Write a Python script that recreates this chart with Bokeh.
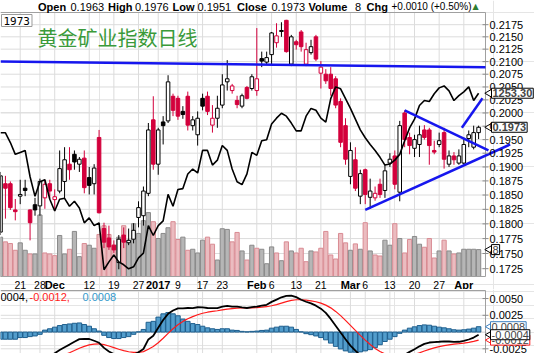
import math
from bokeh.plotting import figure
from bokeh.models import Range1d, LinearScale, Label, LabelSet, ColumnDataSource
from bokeh.layouts import column
from bokeh.embed import file_html
from bokeh.resources import INLINE
from bokeh.core.properties import value

# ---------------- data ----------------
dates = [
    "2016-11-15", "2016-11-16", "2016-11-17", "2016-11-18", "2016-11-21", "2016-11-22", "2016-11-23",
    "2016-11-25", "2016-11-28", "2016-11-29", "2016-11-30",
    "2016-12-01", "2016-12-02", "2016-12-05", "2016-12-06", "2016-12-07", "2016-12-08", "2016-12-09",
    "2016-12-12", "2016-12-13", "2016-12-14", "2016-12-15", "2016-12-16", "2016-12-19", "2016-12-20",
    "2016-12-21", "2016-12-22", "2016-12-23", "2016-12-27", "2016-12-28", "2016-12-29", "2016-12-30",
    "2017-01-03", "2017-01-04", "2017-01-05", "2017-01-06", "2017-01-09", "2017-01-10", "2017-01-11",
    "2017-01-12", "2017-01-13", "2017-01-17", "2017-01-18", "2017-01-19", "2017-01-20", "2017-01-23",
    "2017-01-24", "2017-01-25", "2017-01-26", "2017-01-27", "2017-01-30", "2017-01-31",
    "2017-02-01", "2017-02-02", "2017-02-03", "2017-02-06", "2017-02-07", "2017-02-08", "2017-02-09",
    "2017-02-10", "2017-02-13", "2017-02-14", "2017-02-15", "2017-02-16", "2017-02-17", "2017-02-21",
    "2017-02-22", "2017-02-23", "2017-02-24", "2017-02-27", "2017-02-28",
    "2017-03-01", "2017-03-02", "2017-03-03", "2017-03-06", "2017-03-07", "2017-03-08", "2017-03-09",
    "2017-03-10", "2017-03-13", "2017-03-14", "2017-03-15", "2017-03-16", "2017-03-17", "2017-03-20",
    "2017-03-21", "2017-03-22", "2017-03-23", "2017-03-24", "2017-03-27", "2017-03-28", "2017-03-29",
    "2017-03-30", "2017-03-31",
    "2017-04-03", "2017-04-04", "2017-04-05", "2017-04-06",
]

opens = [
    0.1786, 0.1870, 0.1870, 0.1824, 0.1848, 0.1862, 0.1824, 0.1833, 0.1831, 0.1845,
    0.1870, 0.1842, 0.1857, 0.1874, 0.1905, 0.1923, 0.1905, 0.1916, 0.1881, 0.1870,
    0.1954, 0.1792, 0.1776, 0.1764, 0.1735, 0.1781, 0.1768, 0.1774, 0.1811, 0.1814,
    0.1853, 0.1987, 0.1905, 0.1983, 0.1985, 0.2032, 0.2028, 0.2003, 0.2032, 0.1976,
    0.1959, 0.2028, 0.2032, 0.1977, 0.1990, 0.2015, 0.2060, 0.2043, 0.2024, 0.2013,
    0.2049, 0.2047, 0.2043, 0.2106, 0.2099, 0.2114, 0.2138, 0.2163, 0.2184, 0.2095,
    0.2140, 0.2160, 0.2095, 0.2118, 0.2150, 0.2077, 0.2075, 0.2075, 0.2066, 0.2022,
    0.1976, 0.1883, 0.1913, 0.1848, 0.1895, 0.1846, 0.1845, 0.1869, 0.1858, 0.1907,
    0.1920, 0.1855, 0.2000, 0.1954, 0.1934, 0.1941, 0.1968, 0.1968, 0.1930, 0.1941,
    0.1963, 0.1905, 0.1920, 0.1907, 0.1907, 0.1952, 0.1936, 0.1963,
]
highs = [
    0.1891, 0.1884, 0.1874, 0.1843, 0.1877, 0.1877, 0.1825, 0.1845, 0.1879, 0.1877,
    0.1877, 0.1860, 0.1930, 0.1936, 0.1936, 0.1930, 0.1918, 0.1930, 0.1900, 0.1905,
    0.1968, 0.1802, 0.1797, 0.1772, 0.1781, 0.1794, 0.1792, 0.1801, 0.1839, 0.1865,
    0.1981, 0.2032, 0.1972, 0.1994, 0.2073, 0.2037, 0.2033, 0.2013, 0.2041, 0.1994,
    0.2003, 0.2037, 0.2041, 0.2015, 0.2033, 0.2075, 0.2103, 0.2056, 0.2033, 0.2037,
    0.2052, 0.2075, 0.2168, 0.2120, 0.2120, 0.2160, 0.2178, 0.2180, 0.2185, 0.2154,
    0.2144, 0.2164, 0.2138, 0.2144, 0.2154, 0.2101, 0.2085, 0.2089, 0.2071, 0.2028,
    0.1990, 0.1945, 0.1936, 0.1895, 0.1897, 0.1879, 0.1865, 0.1879, 0.1905, 0.1925,
    0.1930, 0.1985, 0.2005, 0.1963, 0.1959, 0.1976, 0.1977, 0.1972, 0.1948, 0.1963,
    0.1972, 0.1930, 0.1927, 0.1932, 0.1954, 0.1967, 0.1976, 0.1976,
]
lows = [
    0.1781, 0.1809, 0.1824, 0.1806, 0.1834, 0.1848, 0.1772, 0.1814, 0.1814, 0.1826,
    0.1845, 0.1822, 0.1853, 0.1843, 0.1877, 0.1895, 0.1891, 0.1853, 0.1851, 0.1851,
    0.1818, 0.1759, 0.1756, 0.1751, 0.1724, 0.1759, 0.1764, 0.1767, 0.1794, 0.1797,
    0.1848, 0.1895, 0.1886, 0.1941, 0.1981, 0.1994, 0.1987, 0.1989, 0.1967, 0.1967,
    0.1939, 0.2005, 0.1996, 0.1963, 0.1972, 0.2009, 0.2043, 0.2037, 0.2009, 0.2009,
    0.2026, 0.2043, 0.2033, 0.2089, 0.2095, 0.2095, 0.2128, 0.2150, 0.2118, 0.2091,
    0.2124, 0.2120, 0.2091, 0.2114, 0.2101, 0.2047, 0.2056, 0.2033, 0.2009, 0.1936,
    0.1904, 0.1869, 0.1857, 0.1834, 0.1834, 0.1826, 0.1840, 0.1845, 0.1845, 0.1900,
    0.1860, 0.1839, 0.1936, 0.1923, 0.1918, 0.1918, 0.1950, 0.1904, 0.1923, 0.1936,
    0.1897, 0.1900, 0.1904, 0.1904, 0.1904, 0.1936, 0.1932, 0.1951,
]
closes = [
    0.1884, 0.1862, 0.1828, 0.1821, 0.1851, 0.1858, 0.1802, 0.1824, 0.1874, 0.1869,
    0.1857, 0.1847, 0.1897, 0.1913, 0.1895, 0.1909, 0.1914, 0.1863, 0.1867, 0.1898,
    0.1819, 0.1769, 0.1761, 0.1756, 0.1774, 0.1769, 0.1772, 0.1789, 0.1828, 0.1857,
    0.1968, 0.1905, 0.1968, 0.1976, 0.2060, 0.2005, 0.1994, 0.1997, 0.1977, 0.1987,
    0.1990, 0.2013, 0.2003, 0.1990, 0.2009, 0.2054, 0.2066, 0.2052, 0.2016, 0.2033,
    0.2028, 0.2070, 0.2066, 0.2101, 0.2108, 0.2158, 0.2152, 0.2161, 0.2120, 0.2150,
    0.2134, 0.2130, 0.2124, 0.2130, 0.2105, 0.2089, 0.2062, 0.2047, 0.2015, 0.1945,
    0.1914, 0.1930, 0.1862, 0.1888, 0.1851, 0.1857, 0.1853, 0.1851, 0.1893, 0.1914,
    0.1869, 0.1976, 0.1950, 0.1939, 0.1950, 0.1959, 0.1954, 0.1939, 0.1927, 0.1948,
    0.1914, 0.1920, 0.1913, 0.1920, 0.1941, 0.1959, 0.1963, 0.1973,
]
volumes = [
    11.7, 10.3, 9.8, 7.8, 10.0, 7.8, 6.7, 6.7, 18.3, 7.0,
    6.7, 6.2, 12.2, 6.7, 8.1, 13.4, 5.9, 9.8, 9.3, 8.4,
    12.5, 15.1, 12.5, 9.3, 11.7, 15.1, 10.8, 15.7, 12.8, 16.6,
    19.0, 16.3, 11.3, 12.8, 14.5, 16.3, 11.0, 11.7, 7.8, 8.1,
    7.0, 10.8, 11.7, 9.6, 4.9, 14.2, 14.0, 10.3, 13.1, 7.6,
    4.9, 9.3, 8.4, 8.1, 3.8, 8.8, 7.0, 4.7, 10.3, 7.6,
    7.0, 8.4, 4.4, 7.6, 7.3, 8.4, 13.4, 6.4, 5.2, 12.8,
    10.0, 7.8, 9.7, 8.1, 16.0, 7.6, 6.4, 6.1, 10.8, 9.3,
    15.7, 11.3, 7.0, 11.0, 11.9, 9.6, 8.7, 11.3, 5.5, 7.6,
    10.8, 7.6, 6.7, 7.0, 8.1, 8.1, 8.1, 8.0,
]
gold = [
    1225.2, 1225.2, 1218.3, 1209.9, 1211.3, 1212.7, 1194.0, 1180.1, 1190.5, 1191.9,
    1178.0, 1169.7, 1178.0, 1178.7, 1173.1, 1176.6, 1171.8, 1161.3, 1164.8, 1159.3,
    1161.3, 1128.0, 1133.6, 1138.4, 1133.6, 1131.5, 1128.7, 1130.1, 1136.4, 1139.8,
    1159.3, 1152.3, 1159.3, 1162.7, 1181.5, 1173.1, 1184.9, 1185.6, 1196.0, 1199.5,
    1196.7, 1212.7, 1212.7, 1202.3, 1205.8, 1216.2, 1212.7, 1199.5, 1190.5, 1188.4,
    1196.0, 1211.3, 1209.2, 1219.6, 1220.3, 1231.4, 1235.6, 1239.1, 1237.0, 1232.1,
    1226.6, 1226.6, 1237.0, 1242.5, 1241.2, 1235.6, 1232.8, 1249.5, 1257.8, 1256.4,
    1249.5, 1242.5, 1234.9, 1227.3, 1221.7, 1216.9, 1212.7, 1207.8, 1202.3, 1203.0,
    1205.8, 1209.9, 1219.6, 1228.7, 1234.9, 1244.6, 1248.1, 1247.4, 1252.9, 1257.1,
    1258.5, 1255.0, 1248.1, 1251.6, 1254.3, 1257.8, 1248.1, 1253.3,
]
macd = [
    -0.00527, -0.00537, -0.00547, -0.00547, -0.00522, -0.00522, -0.00498, -0.00488, -0.00461, -0.00391,
    -0.00359, -0.00317, -0.00269, -0.00226, -0.00187, -0.00144, -0.00105, -0.00101, -0.00104, -0.00130,
    -0.00160, -0.00236, -0.00290, -0.00329, -0.00353, -0.00359, -0.00362, -0.00336, -0.00302, -0.00253,
    -0.00110, -0.00056, 0.00063, 0.00180, 0.00272, 0.00321, 0.00353, 0.00353, 0.00359, 0.00356,
    0.00370, 0.00367, 0.00359, 0.00357, 0.00357, 0.00380, 0.00392, 0.00379, 0.00380, 0.00369,
    0.00359, 0.00371, 0.00380, 0.00395, 0.00407, 0.00450, 0.00483, 0.00519, 0.00541, 0.00545,
    0.00521, 0.00482, 0.00452, 0.00427, 0.00394, 0.00349, 0.00286, 0.00196, 0.00095, -0.00007,
    -0.00107, -0.00202, -0.00277, -0.00346, -0.00401, -0.00447, -0.00477, -0.00480, -0.00467, -0.00460,
    -0.00438, -0.00394, -0.00339, -0.00296, -0.00256, -0.00213, -0.00176, -0.00156, -0.00149, -0.00145,
    -0.00139, -0.00141, -0.00147, -0.00145, -0.00132, -0.00111, -0.00082, -0.00040,
]
signal = [
    -0.00420, -0.00430, -0.00440, -0.00440, -0.00440, -0.00440, -0.00430, -0.00430, -0.00427, -0.00420,
    -0.00408, -0.00390, -0.00366, -0.00338, -0.00308, -0.00275, -0.00241, -0.00213, -0.00191, -0.00179,
    -0.00175, -0.00187, -0.00208, -0.00232, -0.00256, -0.00277, -0.00294, -0.00302, -0.00302, -0.00292,
    -0.00256, -0.00216, -0.00160, -0.00092, -0.00019, 0.00049, 0.00110, 0.00159, 0.00199, 0.00230,
    0.00258, 0.00280, 0.00296, 0.00308, 0.00318, 0.00331, 0.00343, 0.00350, 0.00356, 0.00359,
    0.00359, 0.00361, 0.00365, 0.00371, 0.00378, 0.00392, 0.00410, 0.00432, 0.00454, 0.00472,
    0.00482, 0.00482, 0.00476, 0.00466, 0.00452, 0.00431, 0.00402, 0.00361, 0.00308, 0.00245,
    0.00174, 0.00099, 0.00024, -0.00050, -0.00120, -0.00185, -0.00244, -0.00291, -0.00326, -0.00353,
    -0.00370, -0.00375, -0.00368, -0.00354, -0.00334, -0.00310, -0.00283, -0.00258, -0.00236, -0.00218,
    -0.00202, -0.00190, -0.00181, -0.00174, -0.00166, -0.00155, -0.00140, -0.00120,
]
hist = [
    -0.00107, -0.00107, -0.00107, -0.00107, -0.00082, -0.00082, -0.00068, -0.00058, -0.00034, 0.00029,
    0.00049, 0.00073, 0.00097, 0.00112, 0.00121, 0.00131, 0.00136, 0.00112, 0.00087, 0.00049,
    0.00015, -0.00049, -0.00082, -0.00097, -0.00097, -0.00082, -0.00068, -0.00034, 0.00003, 0.00039,
    0.00146, 0.00160, 0.00223, 0.00272, 0.00291, 0.00272, 0.00243, 0.00194, 0.00160, 0.00126,
    0.00112, 0.00087, 0.00063, 0.00049, 0.00039, 0.00049, 0.00049, 0.00029, 0.00024, 0.00010,
    0.00003, 0.00010, 0.00015, 0.00024, 0.00029, 0.00058, 0.00073, 0.00087, 0.00087, 0.00073,
    0.00039, 0.00003, -0.00024, -0.00039, -0.00058, -0.00082, -0.00116, -0.00165, -0.00213, -0.00252,
    -0.00281, -0.00301, -0.00301, -0.00296, -0.00281, -0.00262, -0.00233, -0.00189, -0.00141, -0.00107,
    -0.00068, -0.00019, 0.00029, 0.00058, 0.00078, 0.00097, 0.00107, 0.00102, 0.00087, 0.00073,
    0.00063, 0.00049, 0.00034, 0.00029, 0.00034, 0.00044, 0.00058, 0.00080,
]

price_ticks = [0.1725, 0.1750, 0.1775, 0.1800, 0.1825, 0.1850, 0.1875, 0.1900, 0.1925, 0.1950,
               0.1975, 0.2000, 0.2025, 0.2050, 0.2075, 0.2100, 0.2125, 0.2150, 0.2175]
macd_ticks = [-0.0025, 0.0025, 0.0050]
macd_grid = [-0.0025, 0.0, 0.0025, 0.0050]

day_label_dates = ["2016-11-21", "2016-11-28", "2016-12-12", "2016-12-19", "2016-12-27",
                   "2017-01-09", "2017-01-17", "2017-01-23", "2017-02-06", "2017-02-13",
                   "2017-02-21", "2017-03-06", "2017-03-13", "2017-03-20", "2017-03-27"]
day_labels = ["21", "28", "12", "19", "27", "9", "17", "23", "6", "13", "21", "6", "13", "20", "27"]
month_label_dates = ["2016-12-01", "2017-01-03", "2017-02-01", "2017-03-01", "2017-04-03"]
month_labels = ["Dec", "2017", "Feb", "Mar", "Apr"]

# trend lines: (start index, start price) -> (end index, end price)
trend_x0 = [0.0, 82.0, 74.0, 93.6]
trend_p0 = [0.2100, 0.2005, 0.1824, 0.1972]
trend_x1 = [98.4, 99.0, 103.4, 97.8]
trend_p1 = [0.2089, 0.1930, 0.1941, 0.2028]

title_text = "黄金矿业指数日线"
header = [("Open", True), ("0.1963", False), ("High", True), ("0.1976", False),
          ("Low", True), ("0.1951", False), ("Close", True), ("0.1973", False),
          ("Volume", True), ("8", False), ("Chg", True), ("+0.0010 (+0.50%)", False)]

# ---------------- derived ----------------
N = len(dates)
xs = list(range(N))
RED = "#d3003c"
BLUE = "#1616ee"
colors, fills = [], []
for i in range(N):
    up = i == 0 or closes[i] >= closes[i - 1]
    c = "black" if up else RED
    colors.append(c)
    fills.append("white" if closes[i] > opens[i] else c)
vol_fill = ["#b6b6b6" if c == "black" else "#ebbcc0" for c in colors]
vol_line = ["#8a8a8a" if c == "black" else "#d98b93" for c in colors]
body_top = [max(o, c) for o, c in zip(opens, closes)]
body_bot = [min(o, c) for o, c in zip(opens, closes)]
pos = {d: i for i, d in enumerate(dates)}
day_pos = [pos[d] for d in day_label_dates]
month_pos = [pos[d] for d in month_label_dates]
grid_pos = sorted(day_pos + month_pos)

src = ColumnDataSource(dict(x=xs, o=opens, h=highs, l=lows, c=closes, v=volumes, g=gold,
                            top=body_top, bot=body_bot, col=colors, fill=fills,
                            vf=vol_fill, vl=vol_line, macd=macd, sig=signal, hist=hist))

# ---------------- layout geometry (pixels) ----------------
FONT = "Liberation Sans"
GRID = "#dcdcdc"
FRAME_COL = "#a0a0a0"
W = 534
PLOT_W = 485            # width of the plotting area
XMAX = 98.4             # index at right edge of the plotting area
PX = PLOT_W / XMAX
XEND = W / PX
P_H, P_TOP, P_BOT = 289, 12, 276   # main canvas height, plot-area top/bottom rows
Q_H, Q_TOP = 64, 1                  # macd canvas height, plot-area top row

P_LO, P_HI = 0.17122, 0.22003       # price at plot-area bottom / top
VOL_HI = 78.5
GOLD_LO, GOLD_HI = 1123.2, 1310.6
M_LO, M_HI = -0.0032, 0.0062


def ext_lin(lo, hi, top_px, bot_px, H):
    k = (hi - lo) / (bot_px - top_px)
    return lo - (H - bot_px) * k, hi + top_px * k


def ext_log(lo, hi, top_px, bot_px, H):
    a, b = ext_lin(math.log(lo), math.log(hi), top_px, bot_px, H)
    return math.exp(a), math.exp(b)


xr = Range1d(0, XEND)
plo, phi = ext_log(P_LO, P_HI, P_TOP, P_BOT, P_H)
p = figure(width=W, height=P_H, x_range=xr, y_range=Range1d(plo, phi), y_axis_type="log",
           x_axis_location=None, y_axis_location=None, output_backend="svg", toolbar_location=None,
           min_border_left=0, min_border_right=0, min_border_top=0, min_border_bottom=0)
vlo, vhi = ext_lin(0, VOL_HI, P_TOP, P_BOT, P_H)
glo, ghi = ext_lin(GOLD_LO, GOLD_HI, P_TOP, P_BOT, P_H)
p.extra_y_ranges = {"vol": Range1d(vlo, vhi), "gold": Range1d(glo, ghi)}
p.extra_y_scales = {"vol": LinearScale(), "gold": LinearScale()}
p.outline_line_color = None
p.background_fill_color = "white"
p.border_fill_color = "white"

# grid
p.segment(x0=[0] * len(price_ticks), x1=[XMAX] * len(price_ticks), y0=price_ticks, y1=price_ticks,
          line_color=GRID, line_width=1)
p.segment(x0=grid_pos, x1=grid_pos, y0=[P_LO] * len(grid_pos), y1=[P_HI] * len(grid_pos),
          line_color=GRID, line_width=1)

# volume
p.vbar(x="x", width=0.86, bottom=0, top="v", source=src, y_range_name="vol",
       fill_color="vf", line_color="vl", line_width=1)
# candles
p.segment(x0="x", y0="l", x1="x", y1="h", source=src, line_color="col", line_width=1)
p.vbar(x="x", width=0.72, bottom="bot", top="top", source=src,
       fill_color="fill", line_color="col", line_width=1)
# gold overlay
p.line(x="x", y="g", source=src, y_range_name="gold", line_color="black", line_width=1.6)

# frame
p.segment(x0=[0, XMAX, 0], x1=[XMAX, XMAX, XMAX], y0=[P_HI, P_LO, P_LO], y1=[P_HI, P_HI, P_LO],
          line_color=FRAME_COL, line_width=1)

# trend lines
p.segment(x0=trend_x0, y0=trend_p0, x1=trend_x1, y1=trend_p1, line_color=BLUE, line_width=2.5)

# price axis (right)
p.scatter(x=[XMAX] * len(price_ticks), y=price_ticks, marker="dash", size=6,
          line_color="#8c8c8c", line_width=1)
p.add_layout(LabelSet(x="x", y="y", text="t", x_offset=4,
                      source=ColumnDataSource(dict(x=[XMAX] * len(price_ticks), y=price_ticks,
                                                   t=[f"{t:.4f}" for t in price_ticks])),
                      text_font=value(FONT), text_font_size=value("11px"), text_color="black",
                      text_baseline="middle", text_align="left"))

# date axis (below main panel)
DATE_Y = P_H - 284.0
p.add_layout(LabelSet(x="x", y="y", y_units="screen", text="t",
                      source=ColumnDataSource(dict(x=day_pos, y=[DATE_Y] * len(day_pos), t=day_labels)),
                      text_font=value(FONT), text_font_size=value("10.5px"), text_color="black",
                      text_baseline="middle", text_align="center"))
p.add_layout(LabelSet(x="x", y="y", y_units="screen", text="t",
                      source=ColumnDataSource(dict(x=month_pos, y=[DATE_Y] * len(month_pos), t=month_labels)),
                      text_font=value(FONT), text_font_size=value("11px"), text_font_style=value("bold"),
                      text_color="black", text_baseline="middle", text_align="center"))


def lab(fig, H, x, ytop, text, size="11px", style="normal", color="black", font=FONT, **kw):
    fig.add_layout(Label(x=x, y=H - ytop, x_units="screen", y_units="screen", text=text,
                         text_font=font, text_font_size=size, text_font_style=style,
                         text_color=color, text_baseline="middle", **kw))


# header line
hx = [37.5, 70, 107.5, 134.5, 172, 197, 236.5, 271, 308, 354.5, 366, 391]
hsize = ["11px"] * 11 + ["10px"]
for (t, b), x, s in zip(header, hx, hsize):
    lab(p, P_H, x, 6, t, size=s, style="bold" if b else "normal")
lab(p, P_H, 472, 6, "▲", size="8px", color="#2e7d32", font="DejaVu Sans")

lab(p, P_H, 1, 20, "1973", font="DejaVu Sans Mono", border_line_color="#9a9a9a",
    background_fill_color="white", padding=2)
lab(p, P_H, 37, 37, title_text, size="20px", color="#3a9a3a", font="Noto Sans CJK SC")

# value tags (main)
TIP = 4.5 / PX
for val, txt, rng in ((gold[-1], f"{gold[-1]:.2f}", "gold"), (closes[-1], f"{closes[-1]:.4f}", "default"),
                      (volumes[-1], f"{volumes[-1]:.0f}", "vol")):
    p.scatter(x=[XMAX + TIP], y=[val], y_range_name=rng, marker="triangle", angle=math.pi / 2, size=9,
              fill_color="white", line_color="black", line_width=1)
    p.add_layout(Label(x=XMAX, y=val, y_range_name=rng, x_offset=6, text=txt, text_font=FONT,
                       text_font_size="11px", text_font_style="bold" if rng != "vol" else "normal",
                       text_baseline="middle", border_line_color="black",
                       background_fill_color="white", padding=1))

# ---------------- MACD panel ----------------
mlo, mhi = ext_lin(M_LO, M_HI, Q_TOP, Q_H, Q_H)
q = figure(width=W, height=Q_H, x_range=xr, y_range=Range1d(mlo, mhi),
           x_axis_location=None, y_axis_location=None, output_backend="svg", toolbar_location=None,
           min_border_left=0, min_border_right=0, min_border_top=0, min_border_bottom=0)
q.outline_line_color = None
q.segment(x0=[0] * len(macd_grid), x1=[XMAX] * len(macd_grid), y0=macd_grid, y1=macd_grid,
          line_color=GRID, line_width=1)
q.segment(x0=grid_pos, x1=grid_pos, y0=[mlo] * len(grid_pos), y1=[M_HI] * len(grid_pos),
          line_color=GRID, line_width=1)

q.vbar(x="x", width=0.92, bottom=0, top="hist", source=src,
       fill_color="#529dcc", line_color="#1f5f8e", line_width=1)
q.line(x="x", y="sig", source=src, line_color="#ff1a1a", line_width=1.2)
q.line(x="x", y="macd", source=src, line_color="black", line_width=1.8)

q.segment(x0=[0, XMAX], x1=[XMAX, XMAX], y0=[M_HI, mlo], y1=[M_HI, M_HI],
          line_color=FRAME_COL, line_width=1)
q.scatter(x=[XMAX] * len(macd_ticks), y=macd_ticks, marker="dash", size=6,
          line_color="#8c8c8c", line_width=1)
q.add_layout(LabelSet(x="x", y="y", text="t", x_offset=4,
                      source=ColumnDataSource(dict(x=[XMAX] * len(macd_ticks), y=macd_ticks,
                                                   t=[f"{t:.4f}" for t in macd_ticks])),
                      text_font=value(FONT), text_font_size=value("11px"), text_color="black",
                      text_baseline="middle", text_align="left"))

lab(q, Q_H, 0, 7.5, f"{macd[-1]:.4f},"[3:], color="black")
lab(q, Q_H, 29, 7.5, f"{signal[-1]:.4f},", color="#ff1a1a")
lab(q, Q_H, 82, 7.5, f"{hist[-1]:.4f}", color="#3399cc")

for val, bc in ((hist[-1], "#3a7fc0"), (signal[-1], "#ff1a1a"), (macd[-1], "black")):
    q.scatter(x=[XMAX + TIP], y=[val], marker="triangle", angle=math.pi / 2, size=8,
              fill_color="white", line_color=bc, line_width=1)
    q.add_layout(Label(x=XMAX, y=val, x_offset=5, text=f"{val:.4f}", text_font=FONT,
                       text_font_size="11px", text_baseline="middle", border_line_color=bc,
                       background_fill_color="white", padding=1))

layout = column(p, q, spacing=0)
open("out.html", "w").write(file_html(layout, INLINE))
